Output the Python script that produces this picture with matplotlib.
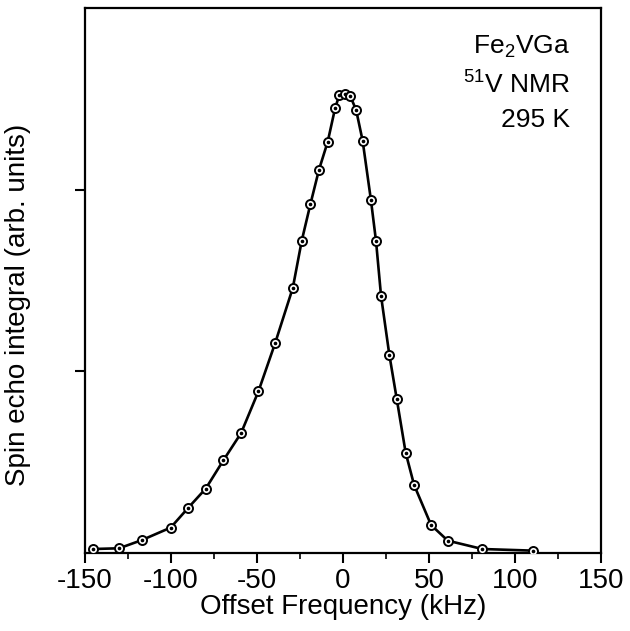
import numpy as np
import matplotlib
matplotlib.use("Agg")
import matplotlib.pyplot as plt
from matplotlib.ticker import MultipleLocator

plt.rcParams['font.family'] = ['Liberation Sans', 'DejaVu Sans']
plt.rcParams['mathtext.fontset'] = 'custom'
plt.rcParams['mathtext.rm'] = 'Liberation Sans'
plt.rcParams['axes.unicode_minus'] = False

# offset frequency (kHz) and spin echo integral (arb. units)
freq = [-145.2, -130.2, -117.0, -100.2, -89.9, -79.8, -69.6, -59.3, -49.2,
        -39.5, -29.2, -24.0, -19.0, -14.0, -8.9, -4.6, -2.2, 1.2, 4.2,
        7.6, 11.4, 16.2, 19.2, 22.1, 26.9, 31.2, 36.4, 41.3, 51.2, 60.9,
        81.0, 110.6]
signal = [0.022, 0.026, 0.071, 0.14, 0.25, 0.355, 0.51, 0.66, 0.89,
          1.155, 1.46, 1.72, 1.92, 2.11, 2.265, 2.45, 2.52, 2.526, 2.516,
          2.44, 2.27, 1.945, 1.716, 1.416, 1.093, 0.85, 0.553, 0.375, 0.154,
          0.068, 0.022, 0.013]

fig = plt.figure(figsize=(6.3, 6.31), dpi=100)
ax = fig.add_axes([0.135, 0.1236, 0.819, 0.8634])

ax.plot(freq, signal, color='black', lw=1.9, zorder=2)
ax.plot(freq, signal, 'o', ms=6.5, mfc='white', mec='black', mew=1.4, zorder=3)
ax.plot(freq, signal, 'o', ms=1.6, color='black', zorder=4)

ax.set_xlim(-150, 150)
ax.set_ylim(0, 3)
ax.xaxis.set_major_locator(MultipleLocator(50))
ax.xaxis.set_minor_locator(MultipleLocator(25))
ax.set_yticks([1, 2])
ax.set_yticklabels([])
ax.tick_params(axis='x', which='major', direction='out', length=7, width=1.5,
               labelsize=20, pad=4)
ax.tick_params(axis='x', which='minor', direction='out', length=4, width=1.2)
ax.tick_params(axis='y', direction='out', length=7, width=1.5)
for s in ax.spines.values():
    s.set_linewidth(1.6)

ax.set_xlabel('Offset Frequency (kHz)', fontsize=20, labelpad=0)
ax.set_ylabel('Spin echo integral (arb. units)', fontsize=20)
ax.yaxis.set_label_coords(-0.105, 0.455)

ax.text(0.94, 0.93, r'Fe$_2$VGa', transform=ax.transAxes, ha='right',
        va='center', fontsize=19)
ax.text(0.94, 0.862, r'$^{51}$V NMR', transform=ax.transAxes, ha='right',
        va='center', fontsize=19)
ax.text(0.94, 0.795, '295 K', transform=ax.transAxes, ha='right',
        va='center', fontsize=19)

fig.savefig('out.png', dpi=100)
